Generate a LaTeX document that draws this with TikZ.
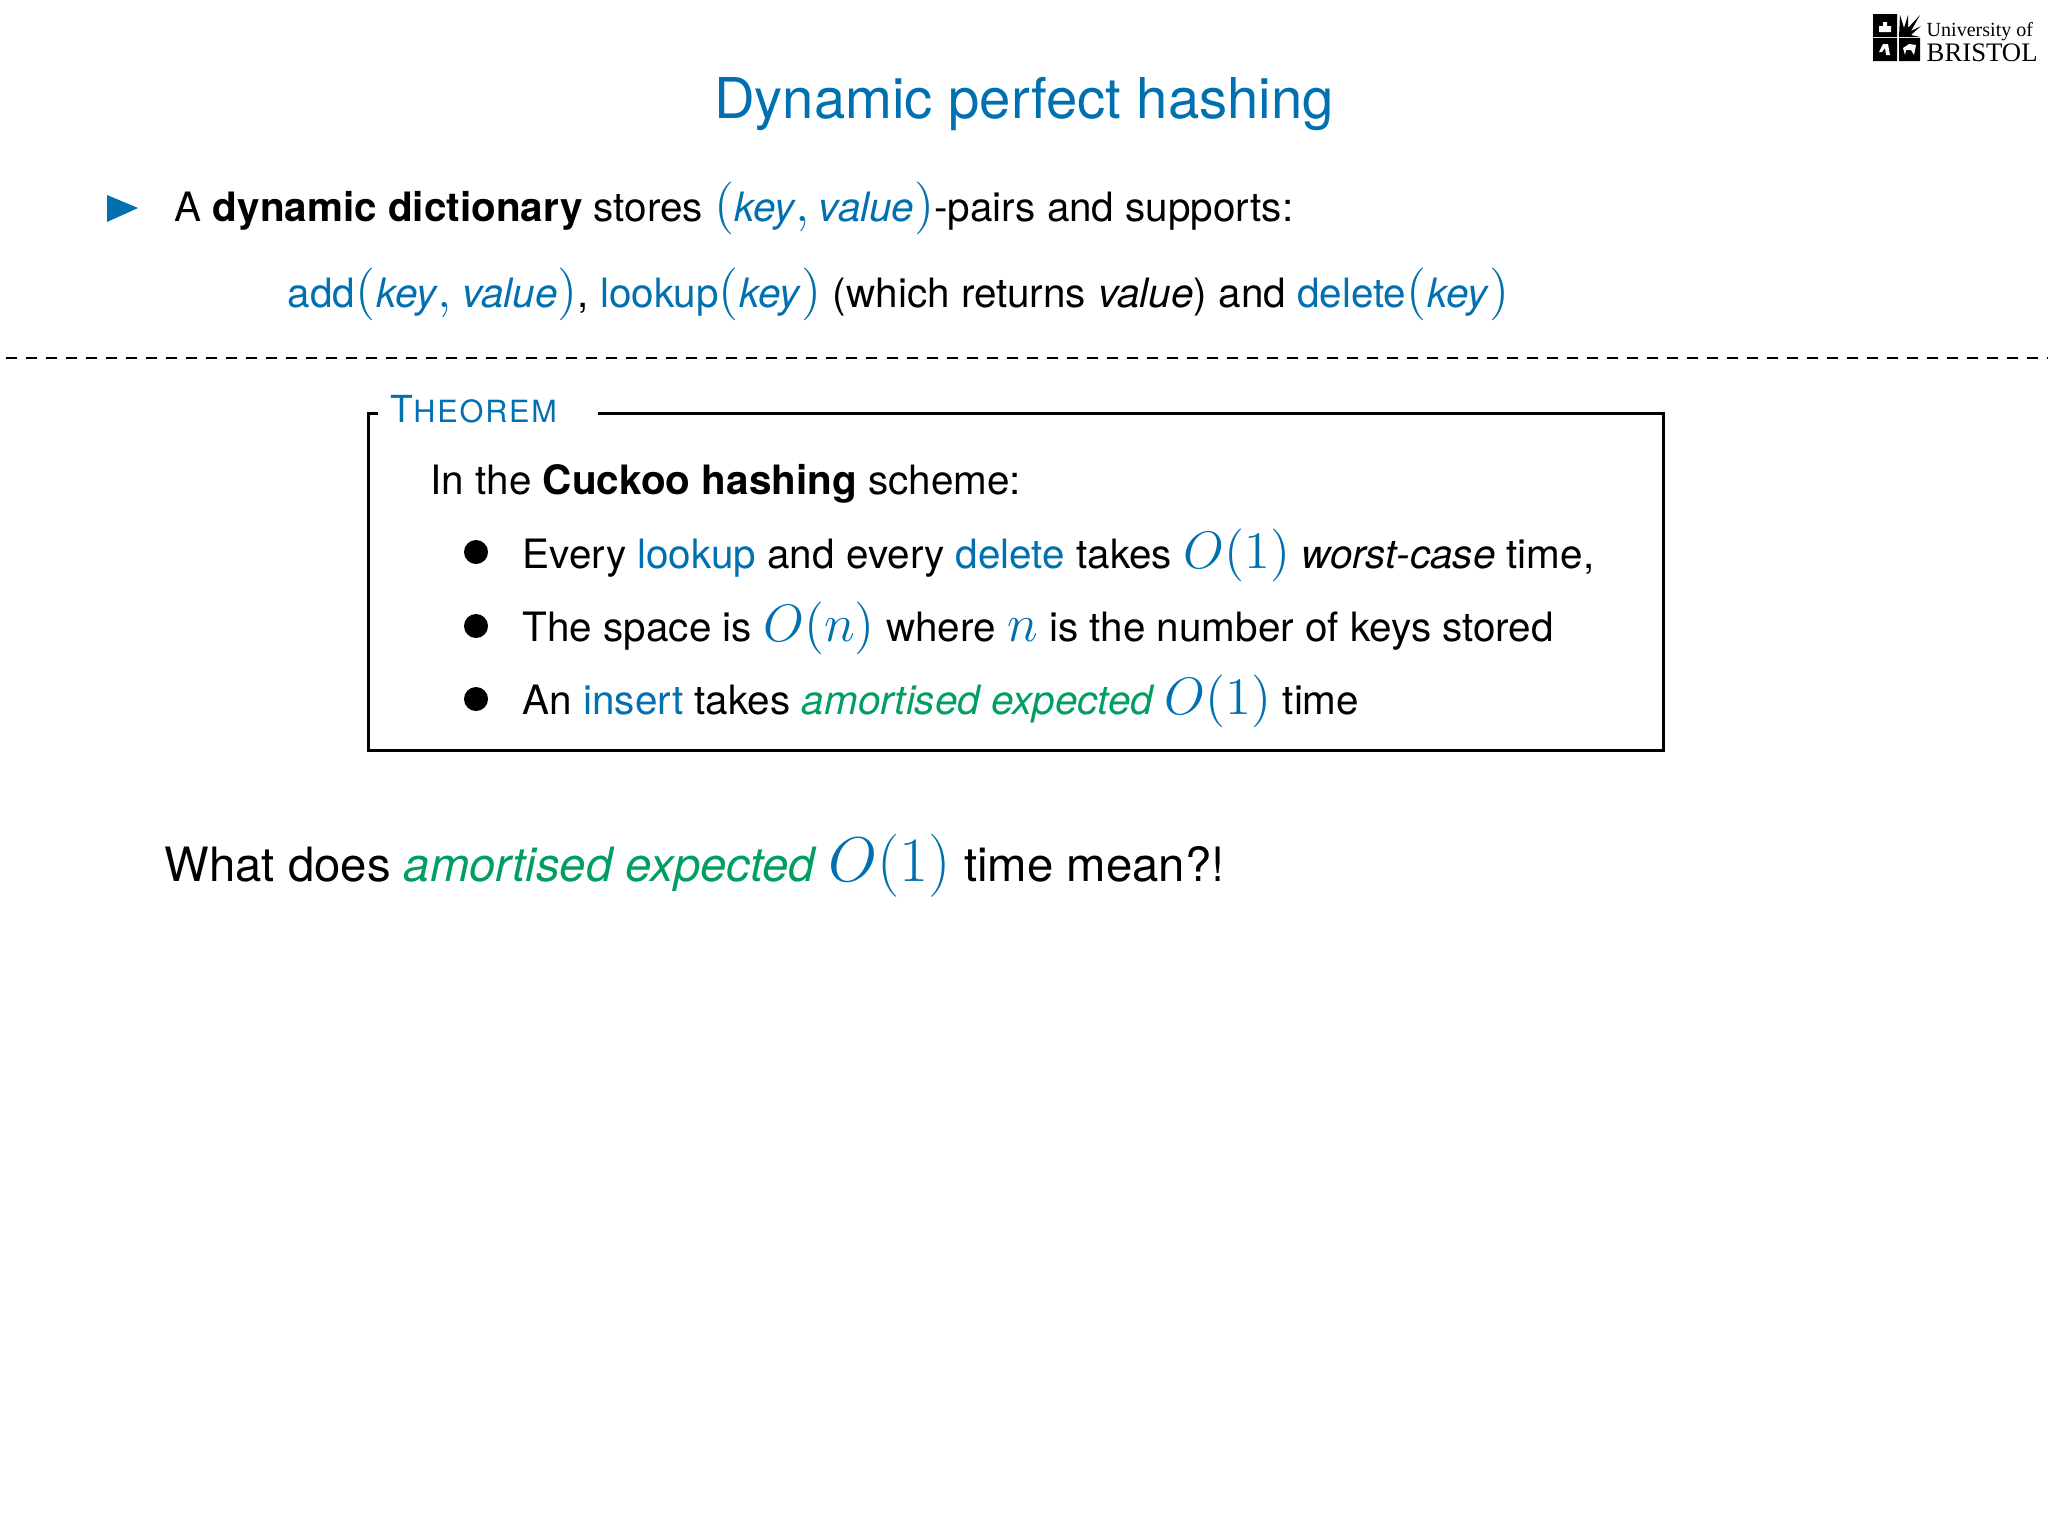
\documentclass[tikz,border=0pt]{standalone}
\usepackage{fontspec}
\setmainfont{TeX Gyre Heros}
\newfontfamily\crestfont{Liberation Serif}
\definecolor{uobblue}{HTML}{0070B0}
\definecolor{uobgreen}{HTML}{009E60}
\newcommand{\kw}[1]{\textcolor{uobblue}{#1}}
\newcommand{\kwi}[1]{\hspace{0.3pt}\textcolor{uobblue}{\textit{#1}}}
\newcommand{\am}[1]{\textcolor{uobgreen}{\textit{#1}}\hspace{0.24em}}
\newcommand{\mth}[1]{\textcolor{uobblue}{\scalebox{1.04}{\fontsize{14.4}{17}\selectfont$#1$}}}
\newcommand{\bigmth}[1]{\textcolor{uobblue}{\scalebox{1.04}{\fontsize{17.28}{20}\selectfont$#1$}}}
\tikzset{
	body/.style={anchor=base west, inner sep=0pt, font=\fontsize{11.5}{14}\selectfont},
	listdot/.style={circle, fill=black, inner sep=0pt, minimum size=0.24cm},
	crest/.style={anchor=base west, inner sep=0pt}
}

\begin{document}
\begin{tikzpicture}[x=0.01cm, y=-0.01cm]
	\useasboundingbox (0,0) rectangle (2048,1536);
	\node [anchor=base, inner sep=0pt, font=\fontsize{16}{20}\selectfont, text=uobblue] (title) at (1024,118) {Dynamic perfect hashing};
	\fill [uobblue] (107,195) -- (138,208) -- (107,222) -- cycle;
	\node [body] (intro) at (174,221) {A \textbf{dynamic dictionary} stores \mth{(}\kw{\textit{key}}\mth{,\,}\kw{\textit{value}}\mth{)}-pairs and supports:};
	\node [body] (ops) at (287,307) {\kw{add}\mth{(}\kwi{key}\mth{,\,}\kwi{value}\mth{)}, \kw{lookup}\mth{(}\kwi{key}\mth{)} (which returns \kwi{\textcolor{black}{value}}) and \kw{delete}\mth{(}\kwi{key}\mth{)}};
	\draw [line width=0.025cm, dash pattern=on 0.11cm off 0.09cm] (6,358) -- (2048,358);
	\draw [line width=0.03cm] (378,413) -| (368,750) -| (1663,413) -- (598,413);
	\node [body, text=uobblue, font=\fontsize{10.6}{12}\selectfont] (thm) at (390,422) {T\fontsize{8.7}{12}\selectfont\addfontfeature{LetterSpace=6}HEOREM};
	\node [body] (scheme) at (430,494) {In the \textbf{Cuckoo hashing} scheme:};
	\node [listdot] (dota) at (476,552) {};
	\node [listdot] (dotb) at (476,626) {};
	\node [listdot] (dotc) at (476,699) {};
	\node [body] (itema) at (522,568) {Every \kw{lookup} and every \kw{delete} takes \mth{O(1)} \textit{worst-case} time,};
	\node [body] (itemb) at (522,641) {The space is \mth{O(n)} where \mth{n} is the number of keys stored};
	\node [body] (itemc) at (522,714) {An \kw{insert} takes \am{amortised expected}\mth{O(1)} time};
	\node [body, font=\fontsize{13.45}{17}\selectfont] (question) at (164,881) {What does \am{amortised expected}\bigmth{O(1)} time mean?!};
	\fill (1873,14) rectangle (1897,37) (1873,38) rectangle (1897,61) (1899,38) rectangle (1920,61);
	\fill (1899,37) -- (1900,15) -- (1904,28) -- (1908,15) -- (1908,28) -- (1920,15) -- (1911,31) -- (1921,26) -- (1911,35) -- (1920,37) -- cycle;
	\fill [white] (1879,26) rectangle (1891,32) (1883,22) rectangle (1887,26) (1879,52) -- (1883,44) -- (1888,44) -- (1890,55) -- (1886,55) -- (1885,48) -- (1882,52) -- cycle (1903,48) -- (1909,44) -- (1916,45) -- (1914,55) -- (1911,50) -- (1906,50) -- (1905,55) -- cycle;
	\node [crest, font=\crestfont\fontsize{5.7}{7}\selectfont] (unia) at (1926,36) {University of};
	\node [crest, font=\crestfont\fontsize{7.6}{9}\selectfont] (unib) at (1926,61) {BRISTOL};
\end{tikzpicture}
\end{document}
